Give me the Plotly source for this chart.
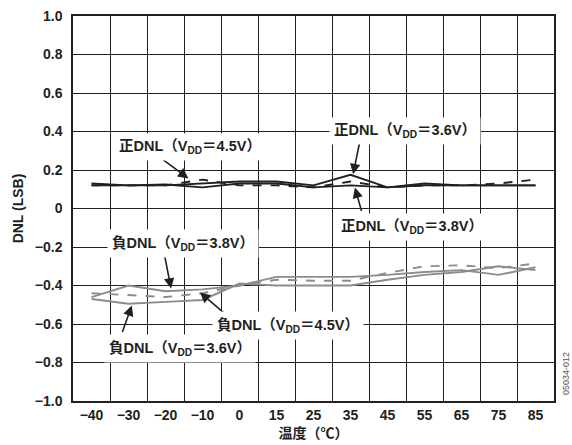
import plotly.graph_objects as go

temps = ["−40", "−30", "−20", "−10", "0", "15", "25", "35", "45", "55", "65", "75", "85"]

pos_36 = [0.13, 0.12, 0.12, 0.13, 0.14, 0.14, 0.12, 0.175, 0.11, 0.13, 0.12, 0.12, 0.12]
pos_38 = [0.12, 0.12, 0.125, 0.11, 0.13, 0.13, 0.11, 0.12, 0.11, 0.12, 0.12, 0.12, 0.12]
pos_45 = [0.12, 0.12, 0.12, 0.15, 0.12, 0.12, 0.11, 0.14, 0.11, 0.12, 0.12, 0.13, 0.15]

neg_38 = [-0.46, -0.40, -0.43, -0.42, -0.40, -0.355, -0.355, -0.355, -0.345, -0.33, -0.32, -0.345, -0.305]
neg_36 = [-0.47, -0.495, -0.485, -0.475, -0.39, -0.40, -0.40, -0.40, -0.37, -0.345, -0.33, -0.30, -0.32]
neg_45 = [-0.44, -0.45, -0.46, -0.44, -0.40, -0.37, -0.375, -0.375, -0.335, -0.30, -0.295, -0.31, -0.285]

y_tickvals = [-1.0, -0.8, -0.6, -0.4, -0.2, 0, 0.2, 0.4, 0.6, 0.8, 1.0]
y_ticktext = ["−1.0", "−0.8", "−0.6", "−0.4", "−0.2", "0", "0.2", "0.4", "0.6", "0.8", "1.0"]

BLACK = "#231f20"
GRAY = "#8c8c8c"

fig = go.Figure()
series = [
    (neg_36, GRAY, "solid"),
    (neg_38, GRAY, "solid"),
    (neg_45, GRAY, "dash"),
    (pos_36, BLACK, "solid"),
    (pos_38, BLACK, "solid"),
    (pos_45, BLACK, "dash"),
]
for vals, col, dash in series:
    fig.add_trace(go.Scatter(x=temps, y=vals, mode="lines",
                             line=dict(color=col, width=1.9, dash=dash),
                             showlegend=False, hoverinfo="skip"))

FONT = "Liberation Sans, Arial, Noto Sans CJK JP, sans-serif"
LFONT = dict(family=FONT, size=14.5, color=BLACK, weight="bold")

labels = [
    ("正DNL（V<sub>DD</sub>＝4.5V）", 2.66, 0.322),
    ("正DNL（V<sub>DD</sub>＝3.6V）", 8.47, 0.405),
    ("正DNL（V<sub>DD</sub>＝3.8V）", 8.66, -0.094),
    ("負DNL（V<sub>DD</sub>＝3.8V）", 2.47, -0.182),
    ("負DNL（V<sub>DD</sub>＝4.5V）", 5.31, -0.608),
    ("負DNL（V<sub>DD</sub>＝3.6V）", 2.39, -0.727),
]
arrows = [
    (2.62, 0.156, -27, -20),
    (7.07, 0.178, 7, -34),
    (7.12, 0.109, 7, 25),
    (2.15, -0.416, -7, -36),
    (2.93, -0.436, 27, 23),
    (1.09, -0.504, -10, 28),
]

anns = []
for (ax_x, ax_y, dx, dy) in arrows:
    anns.append(dict(x=ax_x, y=ax_y, xref="x", yref="y", text="", showarrow=True,
                     ax=dx, ay=dy, arrowhead=2, arrowsize=1.3, arrowwidth=1.6,
                     arrowcolor=BLACK, standoff=0))
for (txt, lx, ly) in labels:
    anns.append(dict(x=lx, y=ly, xref="x", yref="y", text=txt, showarrow=False,
                     font=LFONT, bgcolor="white", borderpad=4))
anns.append(dict(x=(566 - 73) / (554 - 73), y=(401 - 374) / (401 - 16),
                 xref="paper", yref="paper", text="05034-012",
                 xanchor="center", yanchor="middle",
                 showarrow=False, textangle=-90,
                 font=dict(family=FONT, size=9, color="#555555")))

fig.update_layout(
    width=572, height=445,
    margin=dict(l=73, r=18, t=16, b=44, autoexpand=False),
    paper_bgcolor="white", plot_bgcolor="white",
    annotations=anns,
    font=dict(family=FONT, color=BLACK),
)

fig.update_xaxes(type="category", categoryorder="array", categoryarray=temps,
                 tickson="boundaries", showgrid=True, gridcolor=BLACK, gridwidth=1,
                 showline=True, linecolor=BLACK, linewidth=1.5, mirror=True,
                 ticks="", range=[-0.5, 12.5], automargin=False,
                 tickfont=dict(family=FONT, size=14, color=BLACK, weight="bold"),
                 title=dict(text="温度（℃）", standoff=7,
                            font=dict(family=FONT, size=14, color=BLACK, weight="bold")))
fig.update_yaxes(range=[-1.0, 1.0], tickvals=y_tickvals, ticktext=y_ticktext,
                 showgrid=True, gridcolor=BLACK, gridwidth=1, zeroline=False,
                 showline=True, linecolor=BLACK, linewidth=1.5, mirror=True,
                 ticks="", ticklabelstandoff=6, automargin=False,
                 tickfont=dict(family=FONT, size=14, color=BLACK, weight="bold"),
                 title=dict(text="DNL (LSB)", standoff=8,
                            font=dict(family=FONT, size=14, color=BLACK, weight="bold")))

fig.write_html("out.html")
